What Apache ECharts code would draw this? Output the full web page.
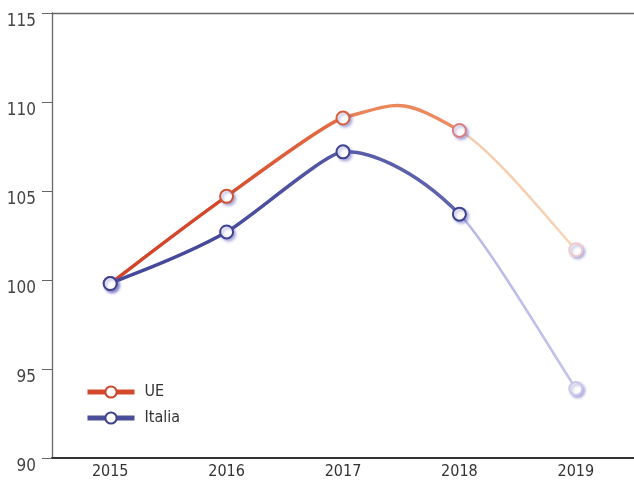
<!DOCTYPE html>
<html><head><meta charset="utf-8">
<script src="https://cdn.jsdelivr.net/npm/echarts@6/dist/echarts.min.js"></script>
<style>html,body{margin:0;padding:0;background:#fff}#c{width:634px;height:480px}</style>
</head><body><div id="c"></div>
<script>
const categories = ['2015','2016','2017','2018','2019'];
const ueValues = [99.8, 104.7, 109.1, 108.4, 101.7];
const italiaValues = [99.8, 102.7, 107.2, 103.7, 93.9];
const yTicks = [90, 95, 100, 105, 110, 115];

const FONT = "'DejaVu Sans Condensed', 'Liberation Sans Narrow', sans-serif";

// segment colours [start, end] and widths
const ueSeg = [['#d0432a','#d4482b'],['#d64d2e','#e36f45'],['#e98458','#ec8c60'],['#f7c9a8','#f8d3b6']];
const itSeg = [['#45489a','#474a9a'],['#484b9c','#5457a4'],['#585ca8','#6164ae'],['#b6b7e6','#c2c3ec']];
const segW = [3.5, 3.5, 3.5, 2.5];
// curve tension at each point (incoming / outgoing side)
const ueTension = {kIn: [0.2, 0.2, 0.08, 0.25, 0.15], kOut: [0.2, 0.1, 0.25, 0.15, 0.2]};
const itTension = {kIn: [0.2, 0.2, 0.08, 0.2, 0.15], kOut: [0.2, 0.1, 0.1, 0.12, 0.2]};

function makeRender(vals, segs, t) {
  return function (params, api) {
    const i = params.dataIndex;
    const n = vals.length;
    if (i >= n - 1) return null;
    const P = vals.map((v, j) => api.coord([j, v]));
    const p0 = P[Math.max(i - 1, 0)], p1 = P[i], p2 = P[i + 1], p3 = P[Math.min(i + 2, n - 1)];
    const a = t.kOut[i], b = t.kIn[i + 1];
    const c1 = [p1[0] + (p2[0] - p0[0]) * a, p1[1] + (p2[1] - p0[1]) * a];
    const c2 = [p2[0] - (p3[0] - p1[0]) * b, p2[1] - (p3[1] - p1[1]) * b];
    const stroke = new echarts.graphic.LinearGradient(p1[0], p1[1], p2[0], p2[1],
      [{offset: 0, color: segs[i][0]}, {offset: 1, color: segs[i][1]}], true);
    return {
      type: 'bezierCurve',
      shape: {x1: p1[0], y1: p1[1], x2: p2[0], y2: p2[1], cpx1: c1[0], cpy1: c1[1], cpx2: c2[0], cpy2: c2[1]},
      style: {stroke: stroke, lineWidth: segW[i], fill: null, lineCap: 'round'},
      silent: true
    };
  };
}

const symStyle = (c) => ({color:'#fff', borderColor:c, borderWidth:2,
  shadowColor:'rgba(90,90,190,0.45)', shadowBlur:3, shadowOffsetX:2, shadowOffsetY:2});

function pointData(vals, borders) {
  return vals.map((v,i) => ({value: v, itemStyle: symStyle(borders[i])}));
}

const chart = echarts.init(document.getElementById('c'), null, {renderer:'canvas'});
chart.setOption({
  animation: false,
  backgroundColor: '#fff',
  grid: {left: 52, right: 0, top: 13, bottom: 22},
  legend: {
    orient: 'vertical', left: 85, top: 384, padding: 0, itemWidth: 47, itemHeight: 14, itemGap: 10,
    textStyle: {fontFamily: FONT, fontSize: 16, color: '#333', padding: [0,0,0,5]},
    data: [
      {name: 'UE', lineStyle: {color: '#d2492b', width: 5, opacity: 1}, itemStyle: {color:'#fff', borderColor:'#c8482c', borderWidth:2}},
      {name: 'Italia', lineStyle: {color: '#4a4d97', width: 5, opacity: 1}, itemStyle: {color:'#fff', borderColor:'#3f4290', borderWidth:2}}
    ]
  },
  xAxis: [{
    type: 'category', data: categories, boundaryGap: true,
    axisLine: {lineStyle: {color: '#333', width: 2}},
    axisTick: {show: false},
    axisLabel: {fontFamily: FONT, fontSize: 16, color: '#333', margin: 6}
  }, {
    type: 'category', data: categories, position: 'top',
    axisLine: {lineStyle: {color: '#666', width: 1.3}},
    axisTick: {show: false}, axisLabel: {show: false}
  }],
  yAxis: {
    type: 'value', min: yTicks[0], max: yTicks[yTicks.length-1], interval: 5,
    axisLine: {show: true, lineStyle: {color: '#666', width: 1.3}},
    axisTick: {show: true, length: 10, lineStyle: {color: '#666'}},
    splitLine: {show: false},
    axisLabel: {fontFamily: FONT, fontSize: 17, color: '#444', margin: 16, verticalAlign: 'top', lineHeight: 17}
  },
  series: [{
    name: 'UE-curve', type: 'custom', renderItem: makeRender(ueValues, ueSeg, ueTension),
    data: ueValues.map((v, i) => [i, v]), encode: {x: 0, y: 1}, z: 2, silent: true
  }, {
    name: 'Italia-curve', type: 'custom', renderItem: makeRender(italiaValues, itSeg, itTension),
    data: italiaValues.map((v, i) => [i, v]), encode: {x: 0, y: 1}, z: 2, silent: true
  }, {
    name: 'UE', type: 'line', data: pointData(ueValues, ['#c8502f','#cc5533','#d4603c','#d88080','#f0c8c8']),
    symbol: 'circle', symbolSize: 13,
    lineStyle: {color: '#d2492b', opacity: 0},
    itemStyle: {color: '#fff', borderColor: '#d2492b', borderWidth: 2},
    z: 3
  }, {
    name: 'Italia', type: 'line', data: pointData(italiaValues, ['#3f4290','#3f4290','#3f4290','#3f4290','#c8c8ea']),
    symbol: 'circle', symbolSize: 13,
    lineStyle: {color: '#4a4d97', opacity: 0},
    itemStyle: {color: '#fff', borderColor: '#4a4d97', borderWidth: 2},
    z: 3
  }]
});
</script></body></html>
